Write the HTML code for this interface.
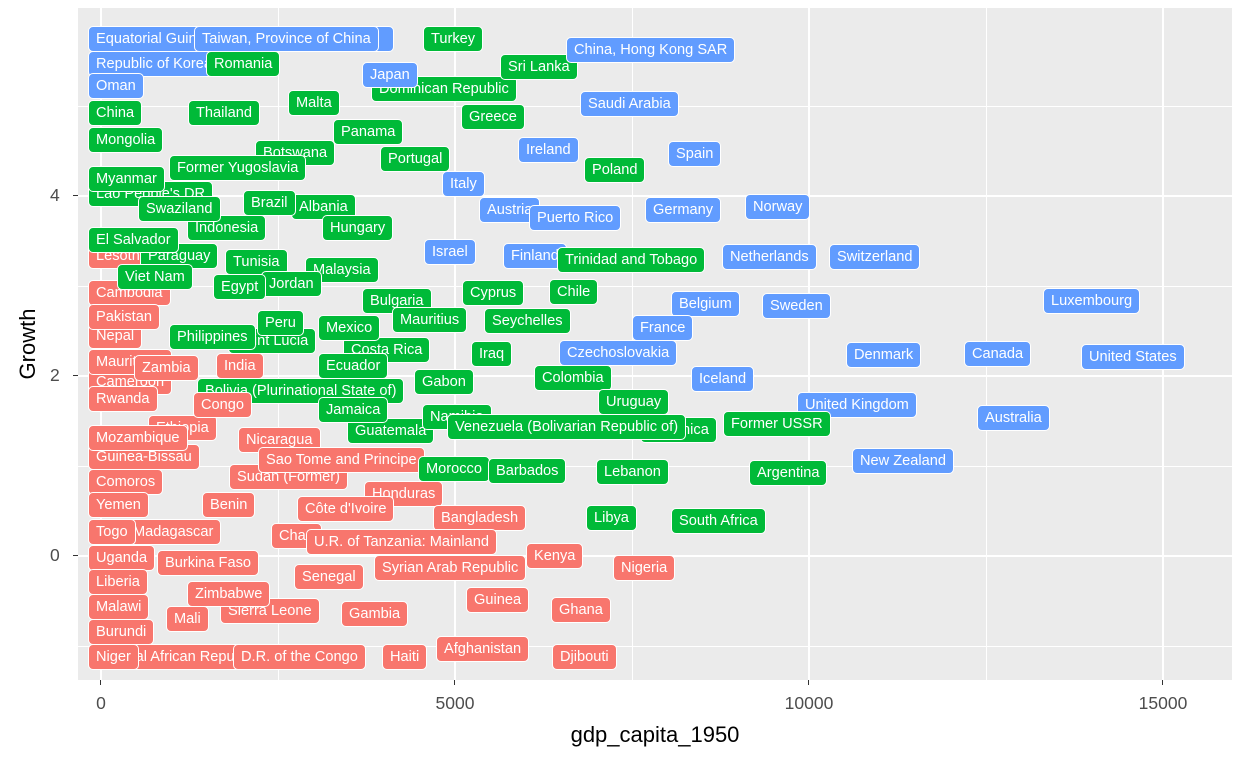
<!DOCTYPE html>
<html><head><meta charset="utf-8"><style>
body{margin:0;width:1248px;height:768px;background:#fff;position:relative;overflow:hidden;font-family:"Liberation Sans",sans-serif}
#p{position:absolute;left:78px;top:8px;width:1154px;height:672px;background:#EBEBEB;overflow:hidden}
.g{position:absolute;background:#fff}
.l{position:absolute;height:24px;line-height:24px;padding:0 7px;font-size:14.6px;color:#fff;border:1px solid #fff;border-radius:5px;white-space:nowrap;transform:translateY(-50%)}
.r{background:#F8766D}.gr{background:#00BA38}.b{background:#619CFF}
.t{position:absolute;font-size:17.5px;color:#4D4D4D}
</style></head><body>
<div id="p">
<div class="g" style="left:200px;top:0;width:1px;height:672px"></div>
<div class="g" style="left:554px;top:0;width:1px;height:672px"></div>
<div class="g" style="left:908px;top:0;width:1px;height:672px"></div>
<div class="g" style="left:22px;top:0;width:2px;height:672px"></div>
<div class="g" style="left:376px;top:0;width:2px;height:672px"></div>
<div class="g" style="left:730px;top:0;width:2px;height:672px"></div>
<div class="g" style="left:1084px;top:0;width:2px;height:672px"></div>
<div class="g" style="top:98px;left:0;height:1px;width:1154px"></div>
<div class="g" style="top:278px;left:0;height:1px;width:1154px"></div>
<div class="g" style="top:458px;left:0;height:1px;width:1154px"></div>
<div class="g" style="top:638px;left:0;height:1px;width:1154px"></div>
<div class="g" style="top:187px;left:0;height:2px;width:1154px"></div>
<div class="g" style="top:367px;left:0;height:2px;width:1154px"></div>
<div class="g" style="top:547px;left:0;height:2px;width:1154px"></div>
</div>
<div id="L">
<div class="l b" style="left:88px;top:39px;width:290px">Equatorial Guinea</div>
<div class="l b" style="left:194px;top:39px">Taiwan, Province of China</div>
<div class="l b" style="left:88px;top:64px">Republic of Korea</div>
<div class="l gr" style="left:206px;top:64px">Romania</div>
<div class="l b" style="left:88px;top:86px">Oman</div>
<div class="l gr" style="left:423px;top:39px">Turkey</div>
<div class="l gr" style="left:371px;top:89px">Dominican Republic</div>
<div class="l b" style="left:362px;top:75px">Japan</div>
<div class="l gr" style="left:500px;top:67px">Sri Lanka</div>
<div class="l b" style="left:566px;top:50px">China, Hong Kong SAR</div>
<div class="l b" style="left:580px;top:104px">Saudi Arabia</div>
<div class="l gr" style="left:88px;top:113px">China</div>
<div class="l gr" style="left:188px;top:113px">Thailand</div>
<div class="l gr" style="left:288px;top:103px">Malta</div>
<div class="l gr" style="left:461px;top:117px">Greece</div>
<div class="l gr" style="left:88px;top:140px">Mongolia</div>
<div class="l gr" style="left:255px;top:153px">Botswana</div>
<div class="l gr" style="left:333px;top:132px">Panama</div>
<div class="l gr" style="left:380px;top:159px">Portugal</div>
<div class="l b" style="left:518px;top:150px">Ireland</div>
<div class="l b" style="left:668px;top:154px">Spain</div>
<div class="l gr" style="left:584px;top:170px">Poland</div>
<div class="l gr" style="left:88px;top:194px">Lao People's DR</div>
<div class="l gr" style="left:88px;top:179px">Myanmar</div>
<div class="l gr" style="left:169px;top:168px">Former Yugoslavia</div>
<div class="l b" style="left:442px;top:184px">Italy</div>
<div class="l gr" style="left:291px;top:207px">Albania</div>
<div class="l gr" style="left:243px;top:203px">Brazil</div>
<div class="l gr" style="left:187px;top:228px">Indonesia</div>
<div class="l gr" style="left:138px;top:209px">Swaziland</div>
<div class="l b" style="left:479px;top:210px">Austria</div>
<div class="l b" style="left:529px;top:218px">Puerto Rico</div>
<div class="l b" style="left:645px;top:210px">Germany</div>
<div class="l b" style="left:745px;top:207px">Norway</div>
<div class="l gr" style="left:322px;top:228px">Hungary</div>
<div class="l r" style="left:88px;top:256px">Lesotho</div>
<div class="l gr" style="left:140px;top:256px">Paraguay</div>
<div class="l gr" style="left:88px;top:240px">El Salvador</div>
<div class="l b" style="left:424px;top:252px">Israel</div>
<div class="l b" style="left:503px;top:256px">Finland</div>
<div class="l gr" style="left:557px;top:260px">Trinidad and Tobago</div>
<div class="l b" style="left:722px;top:257px">Netherlands</div>
<div class="l b" style="left:829px;top:257px">Switzerland</div>
<div class="l gr" style="left:225px;top:262px">Tunisia</div>
<div class="l gr" style="left:305px;top:270px">Malaysia</div>
<div class="l r" style="left:88px;top:293px">Cambodia</div>
<div class="l gr" style="left:117px;top:277px">Viet Nam</div>
<div class="l gr" style="left:261px;top:284px">Jordan</div>
<div class="l gr" style="left:213px;top:287px">Egypt</div>
<div class="l gr" style="left:362px;top:301px">Bulgaria</div>
<div class="l gr" style="left:462px;top:293px">Cyprus</div>
<div class="l gr" style="left:549px;top:292px">Chile</div>
<div class="l b" style="left:671px;top:304px">Belgium</div>
<div class="l b" style="left:762px;top:306px">Sweden</div>
<div class="l b" style="left:1043px;top:301px">Luxembourg</div>
<div class="l r" style="left:88px;top:336px">Nepal</div>
<div class="l r" style="left:88px;top:317px">Pakistan</div>
<div class="l gr" style="left:228px;top:341px">Saint Lucia</div>
<div class="l gr" style="left:257px;top:323px">Peru</div>
<div class="l gr" style="left:169px;top:337px">Philippines</div>
<div class="l gr" style="left:343px;top:350px">Costa Rica</div>
<div class="l gr" style="left:318px;top:328px">Mexico</div>
<div class="l gr" style="left:392px;top:320px">Mauritius</div>
<div class="l gr" style="left:484px;top:321px">Seychelles</div>
<div class="l b" style="left:632px;top:328px">France</div>
<div class="l gr" style="left:471px;top:354px">Iraq</div>
<div class="l b" style="left:559px;top:353px">Czechoslovakia</div>
<div class="l b" style="left:846px;top:355px">Denmark</div>
<div class="l b" style="left:964px;top:354px">Canada</div>
<div class="l b" style="left:1081px;top:357px">United States</div>
<div class="l r" style="left:88px;top:382px">Cameroon</div>
<div class="l r" style="left:88px;top:362px">Mauritania</div>
<div class="l r" style="left:134px;top:368px">Zambia</div>
<div class="l r" style="left:216px;top:366px">India</div>
<div class="l gr" style="left:197px;top:391px">Bolivia (Plurinational State of)</div>
<div class="l gr" style="left:318px;top:366px">Ecuador</div>
<div class="l gr" style="left:414px;top:382px">Gabon</div>
<div class="l gr" style="left:534px;top:378px">Colombia</div>
<div class="l b" style="left:691px;top:379px">Iceland</div>
<div class="l r" style="left:88px;top:399px">Rwanda</div>
<div class="l r" style="left:148px;top:428px">Ethiopia</div>
<div class="l r" style="left:193px;top:405px">Congo</div>
<div class="l gr" style="left:598px;top:402px">Uruguay</div>
<div class="l b" style="left:797px;top:405px">United Kingdom</div>
<div class="l b" style="left:977px;top:418px">Australia</div>
<div class="l gr" style="left:347px;top:431px">Guatemala</div>
<div class="l gr" style="left:318px;top:410px">Jamaica</div>
<div class="l gr" style="left:422px;top:417px">Namibia</div>
<div class="l gr" style="left:640px;top:430px">Dominica</div>
<div class="l gr" style="left:447px;top:427px">Venezuela (Bolivarian Republic of)</div>
<div class="l gr" style="left:723px;top:424px">Former USSR</div>
<div class="l r" style="left:88px;top:457px">Guinea-Bissau</div>
<div class="l r" style="left:88px;top:438px">Mozambique</div>
<div class="l r" style="left:238px;top:440px">Nicaragua</div>
<div class="l r" style="left:229px;top:477px">Sudan (Former)</div>
<div class="l r" style="left:258px;top:460px">Sao Tome and Principe</div>
<div class="l b" style="left:852px;top:461px">New Zealand</div>
<div class="l gr" style="left:418px;top:469px">Morocco</div>
<div class="l gr" style="left:488px;top:471px">Barbados</div>
<div class="l gr" style="left:596px;top:472px">Lebanon</div>
<div class="l gr" style="left:749px;top:473px">Argentina</div>
<div class="l r" style="left:88px;top:482px">Comoros</div>
<div class="l r" style="left:364px;top:494px">Honduras</div>
<div class="l r" style="left:88px;top:505px">Yemen</div>
<div class="l r" style="left:202px;top:505px">Benin</div>
<div class="l r" style="left:297px;top:509px">Côte d'Ivoire</div>
<div class="l r" style="left:433px;top:518px">Bangladesh</div>
<div class="l gr" style="left:586px;top:518px">Libya</div>
<div class="l gr" style="left:671px;top:521px">South Africa</div>
<div class="l r" style="left:125px;top:532px">Madagascar</div>
<div class="l r" style="left:88px;top:532px">Togo</div>
<div class="l r" style="left:271px;top:536px">Chad</div>
<div class="l r" style="left:306px;top:542px">U.R. of Tanzania: Mainland</div>
<div class="l r" style="left:526px;top:556px">Kenya</div>
<div class="l r" style="left:88px;top:558px">Uganda</div>
<div class="l r" style="left:157px;top:563px">Burkina Faso</div>
<div class="l r" style="left:374px;top:568px">Syrian Arab Republic</div>
<div class="l r" style="left:613px;top:568px">Nigeria</div>
<div class="l r" style="left:294px;top:577px">Senegal</div>
<div class="l r" style="left:88px;top:582px">Liberia</div>
<div class="l r" style="left:220px;top:611px">Sierra Leone</div>
<div class="l r" style="left:187px;top:594px">Zimbabwe</div>
<div class="l r" style="left:466px;top:600px">Guinea</div>
<div class="l r" style="left:88px;top:607px">Malawi</div>
<div class="l r" style="left:166px;top:619px">Mali</div>
<div class="l r" style="left:341px;top:614px">Gambia</div>
<div class="l r" style="left:551px;top:610px">Ghana</div>
<div class="l r" style="left:88px;top:632px">Burundi</div>
<div class="l r" style="left:92px;top:657px">Central African Republic</div>
<div class="l r" style="left:88px;top:657px">Niger</div>
<div class="l r" style="left:233px;top:657px">D.R. of the Congo</div>
<div class="l r" style="left:382px;top:657px">Haiti</div>
<div class="l r" style="left:436px;top:649px">Afghanistan</div>
<div class="l r" style="left:552px;top:657px">Djibouti</div>
</div>
<div class="t" style="left:50px;top:185px">4</div>
<div class="t" style="left:50px;top:365px">2</div>
<div class="t" style="left:50px;top:545px">0</div>
<div style="position:absolute;left:73px;top:195px;width:5px;height:1px;background:#333"></div>
<div style="position:absolute;left:73px;top:375px;width:5px;height:1px;background:#333"></div>
<div style="position:absolute;left:73px;top:555px;width:5px;height:1px;background:#333"></div>
<div style="position:absolute;left:100px;top:680px;width:1px;height:5px;background:#333"></div>
<div style="position:absolute;left:454px;top:680px;width:1px;height:5px;background:#333"></div>
<div style="position:absolute;left:808px;top:680px;width:1px;height:5px;background:#333"></div>
<div style="position:absolute;left:1162px;top:680px;width:1px;height:5px;background:#333"></div>
<div class="t" style="left:101px;top:693px;transform:translateX(-50%)">0</div>
<div class="t" style="left:455px;top:693px;transform:translateX(-50%)">5000</div>
<div class="t" style="left:809px;top:693px;transform:translateX(-50%)">10000</div>
<div class="t" style="left:1163px;top:693px;transform:translateX(-50%)">15000</div>
<div style="position:absolute;left:655px;top:722px;transform:translateX(-50%);font-size:22px;color:#000">gdp_capita_1950</div>
<div style="position:absolute;left:28px;top:344px;transform:translate(-50%,-50%) rotate(-90deg);font-size:22px;color:#000">Growth</div>
</body></html>
